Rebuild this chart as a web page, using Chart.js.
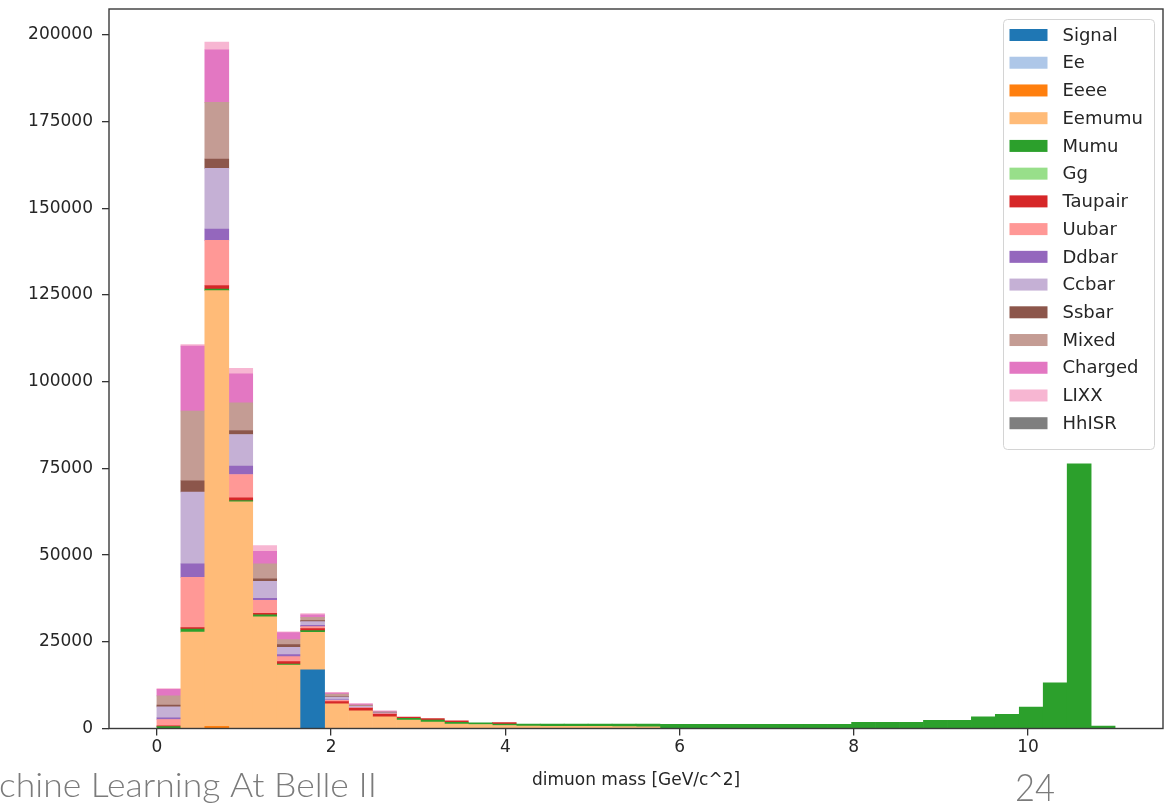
<!DOCTYPE html>
<html>
<head>
<meta charset="utf-8">
<script src="https://cdn.jsdelivr.net/npm/chart.js@4.4.1/dist/chart.umd.min.js"></script>
<style>
html,body{margin:0;padding:0;background:#fff;}
canvas{display:block;}
</style>
</head>
<body>
<canvas id="c" width="1173" height="805"></canvas>
<script>
// ---- data ----
const binEdges = [0, 0.275, 0.55, 0.825, 1.1, 1.375, 1.65, 1.925, 2.2, 2.475, 2.75, 3.025, 3.3, 3.575, 3.85, 4.125, 4.4, 4.675, 4.95, 5.225, 5.5, 5.775, 6.05, 6.325, 6.6, 6.875, 7.15, 7.425, 7.7, 7.975, 8.25, 8.525, 8.8, 9.075, 9.35, 9.625, 9.9, 10.175, 10.45, 10.725, 11.0];
const xTickValues = [0, 2, 4, 6, 8, 10];
const yTickValues = [0, 25000, 50000, 75000, 100000, 125000, 150000, 175000, 200000];
const seriesNames = ["Signal","Ee","Eeee","Eemumu","Mumu","Gg","Taupair","Uubar","Ddbar","Ccbar","Ssbar","Mixed","Charged","LIXX","HhISR"];
const seriesColors = ["#1f77b4","#aec7e8","#ff7f0e","#ffbb78","#2ca02c","#98df8a","#d62728","#ff9896","#9467bd","#c5b0d5","#8c564b","#c49c94","#e377c2","#f7b6d2","#7f7f7f"];

const signal  = [0,0,0,0,0,0,16900,0,0,0, 0,0,0,0,0,0,0,0,0,0, 0,0,0,0,0,0,0,0,0,0, 0,0,0,0,0,0,0,0,0,0];
const ee      = [0,0,0,0,0,0,0,0,0,0, 0,0,0,0,0,0,0,0,0,0, 0,0,0,0,0,0,0,0,0,0, 0,0,0,0,0,0,0,0,0,0];
const eeee    = [0,0,600,0,0,0,0,0,0,0, 0,0,0,0,0,0,0,0,0,0, 0,0,0,0,0,0,0,0,0,0, 0,0,0,0,0,0,0,0,0,0];
const eemumu  = [0,27800,125700,65400,32200,18300,10850,7150,5130,3400, 2450,1850,1250,1150,870,700,650,600,600,550, 500,0,0,0,0,0,0,0,0,0, 0,0,0,0,0,0,0,0,0,0];
const mumu    = [550,900,450,300,550,300,480,0,0,0, 490,550,500,490,380,550,600,650,650,700, 750,1200,1200,1200,1200,1200,1200,1200,1200,1790, 1790,1790,2370,2370,3400,4100,6200,13200,76300,720];
const gg      = [0,0,0,0,0,0,0,0,0,0, 0,0,0,0,0,0,0,0,0,0, 0,0,0,0,0,0,0,0,0,0, 0,0,0,0,0,0,0,0,0,0];
const taupair = [200,400,1000,800,450,700,580,600,690,690, 380,450,480,0,480,0,0,0,0,0, 0,0,0,0,0,0,0,0,0,0, 0,0,0,0,0,0,0,0,0,0];
const uubar   = [1850,14500,13000,6750,3750,1440,580,350,200,200, 0,0,0,0,0,0,0,0,0,0, 0,0,0,0,0,0,0,0,0,0, 0,0,0,0,0,0,0,0,0,0];
const ddbar   = [460,3900,3300,2400,580,580,380,150,100,50, 0,0,0,0,0,0,0,0,0,0, 0,0,0,0,0,0,0,0,0,0, 0,0,0,0,0,0,0,0,0,0];
const ccbar   = [3170,20700,17500,9150,4900,2100,1060,800,300,200, 0,0,0,0,0,0,0,0,0,0, 0,0,0,0,0,0,0,0,0,0, 0,0,0,0,0,0,0,0,0,0];
const ssbar   = [490,3260,2700,1150,700,780,290,150,80,50, 0,0,0,0,0,0,0,0,0,0, 0,0,0,0,0,0,0,0,0,0, 0,0,0,0,0,0,0,0,0,0];
const mixed   = [2680,20100,16300,7960,4330,1440,960,700,250,200, 0,0,0,0,0,0,0,0,0,0, 0,0,0,0,0,0,0,0,0,0, 0,0,0,0,0,0,0,0,0,0];
const charged = [1930,18700,15200,8370,3640,2020,670,350,300,200, 0,0,0,0,0,0,0,0,0,0, 0,0,0,0,0,0,0,0,0,0, 0,0,0,0,0,0,0,0,0,0];
const lixx    = [200,460,2200,1560,1640,200,380,200,140,50, 0,0,0,0,0,0,0,0,0,0, 0,0,0,0,0,0,0,0,0,0, 0,0,0,0,0,0,0,0,0,0];
const hhisr   = [0,0,0,0,0,0,0,0,0,0, 0,0,0,0,0,0,0,0,0,0, 0,0,0,0,0,0,0,0,0,0, 0,0,0,0,0,0,0,0,0,0];

const seriesValues = [signal, ee, eeee, eemumu, mumu, gg, taupair, uubar, ddbar, ccbar, ssbar, mixed, charged, lixx, hhisr];
const xLabel = "dimuon mass [GeV/c^2]";
const footerLeft = "chine Learning At Belle II";
const footerRight = "24";

// ---- chart ----
const binCenters = binEdges.slice(0, -1).map((e, i) => (e + binEdges[i + 1]) / 2);
const datasets = seriesNames.map((name, k) => ({
  label: name,
  // empty bins are not drawn (avoids hairline slivers of zero-height bars)
  data: seriesValues[k].map((v, i) => ({x: binCenters[i], y: v === 0 ? null : v})),
  backgroundColor: seriesColors[k],
  borderWidth: 0,
  barPercentage: 1,
  categoryPercentage: 1
}));

const TEXT = '#262626';

const framePlugin = {
  id: 'frame',
  afterDatasetsDraw(chart) {
    const {ctx, chartArea: a} = chart;
    ctx.save();
    ctx.strokeStyle = '#3a3a3a';
    ctx.lineWidth = 1.4;
    ctx.strokeRect(a.left, a.top, a.right - a.left, a.bottom - a.top);
    ctx.restore();
  }
};

const legendPlugin = {
  id: 'boxLegend',
  afterDraw(chart) {
    const ctx = chart.ctx;
    ctx.save();
    const bx = 1003.5, by = 19.5, bw = 151, bh = 430, r = 4;
    ctx.beginPath();
    ctx.moveTo(bx + r, by);
    ctx.lineTo(bx + bw - r, by); ctx.quadraticCurveTo(bx + bw, by, bx + bw, by + r);
    ctx.lineTo(bx + bw, by + bh - r); ctx.quadraticCurveTo(bx + bw, by + bh, bx + bw - r, by + bh);
    ctx.lineTo(bx + r, by + bh); ctx.quadraticCurveTo(bx, by + bh, bx, by + bh - r);
    ctx.lineTo(bx, by + r); ctx.quadraticCurveTo(bx, by, bx + r, by);
    ctx.closePath();
    ctx.fillStyle = 'rgba(255,255,255,0.85)';
    ctx.fill();
    ctx.strokeStyle = '#d4d4d4';
    ctx.lineWidth = 1;
    ctx.stroke();
    ctx.font = '18px "DejaVu Sans"';
    ctx.textBaseline = 'middle';
    ctx.textAlign = 'left';
    chart.data.datasets.forEach((ds, i) => {
      const cy = 35 + i * 27.73;
      ctx.fillStyle = ds.backgroundColor;
      ctx.fillRect(1009.5, cy - 6, 38, 12);
      ctx.fillStyle = TEXT;
      ctx.fillText(ds.label, 1062.5, cy + 1);
    });
    ctx.restore();
  }
};

const footerPlugin = {
  id: 'footer',
  afterDraw(chart) {
    const ctx = chart.ctx;
    ctx.save();
    ctx.fillStyle = '#7b7b7b';
    ctx.textBaseline = 'alphabetic';
    ctx.textAlign = 'left';
    ctx.font = '300 34px Lato, "Open Sans", sans-serif';
    let w = ctx.measureText(footerLeft).width;
    ctx.save();
    ctx.translate(-1, 797);
    ctx.scale(378 / w, 1);
    ctx.fillText(footerLeft, 0, 0);
    ctx.restore();
    ctx.font = '300 38px Lato, "Open Sans", sans-serif';
    w = ctx.measureText(footerRight).width;
    ctx.save();
    ctx.translate(1015, 801);
    ctx.scale(40 / w, 1);
    ctx.fillText(footerRight, 0, 0);
    ctx.restore();
    ctx.restore();
  }
};

new Chart(document.getElementById('c'), {
  type: 'bar',
  data: {datasets},
  options: {
    responsive: false,
    animation: false,
    devicePixelRatio: 1,
    layout: {padding: {top: 9, right: 10, left: 0, bottom: 0}},
    plugins: {legend: {display: false}, tooltip: {enabled: false}},
    scales: {
      x: {
        type: 'linear',
        stacked: true,
        offset: false,
        min: -0.55,
        max: 11.55,
        afterBuildTicks: s => { s.ticks = xTickValues.map(v => ({value: v})); },
        afterFit: s => { s.height = 76.5; s.paddingLeft = 0; s.paddingRight = 0; },
        grid: {display: true, offset: false, drawOnChartArea: false, drawTicks: true, tickLength: 7, color: '#333', lineWidth: 1.3},
        border: {display: false},
        ticks: {padding: 2, color: TEXT, font: {family: 'DejaVu Sans', size: 17}, maxRotation: 0, autoSkip: false, callback: v => String(v)},
        title: {display: true, text: xLabel, color: TEXT, font: {family: 'DejaVu Sans', size: 17}, padding: {top: 0, bottom: 14}}
      },
      y: {
        stacked: true,
        min: 0,
        max: 207500,
        afterBuildTicks: s => { s.ticks = yTickValues.map(v => ({value: v})); },
        afterFit: s => { s.width = 109; s.paddingTop = 0; s.paddingBottom = 0; },
        grid: {display: true, drawOnChartArea: false, drawTicks: true, tickLength: 7, color: '#333', lineWidth: 1.3},
        border: {display: false},
        ticks: {padding: 9, color: TEXT, font: {family: 'DejaVu Sans', size: 17}, autoSkip: false, callback: v => String(v)}
      }
    }
  },
  plugins: [framePlugin, legendPlugin, footerPlugin]
});
</script>
</body>
</html>
